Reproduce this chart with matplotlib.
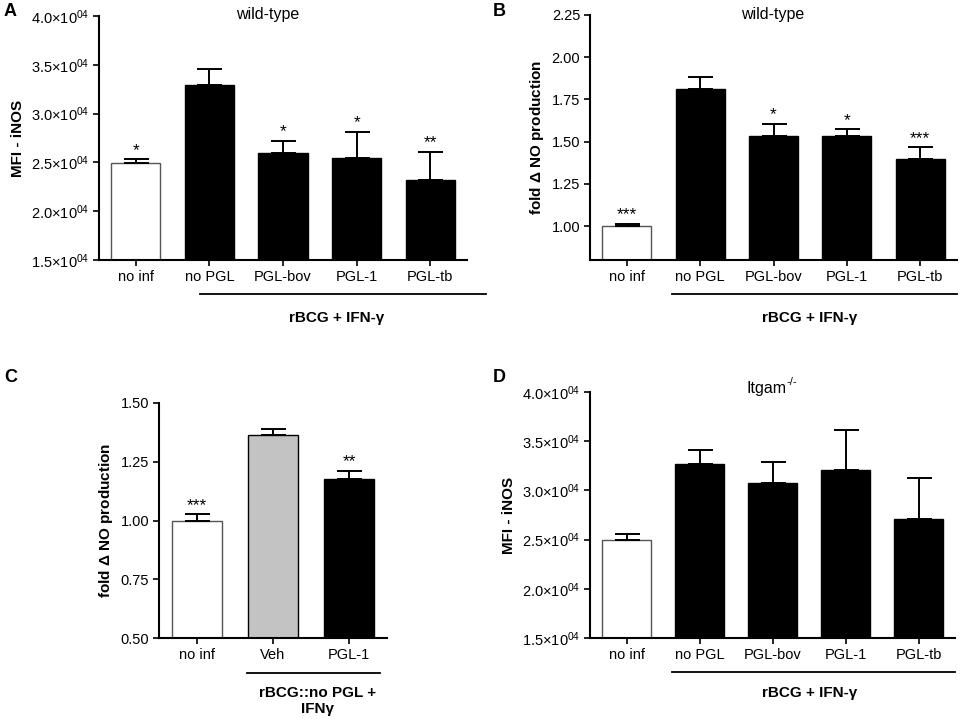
import matplotlib
matplotlib.use("Agg")
import matplotlib.pyplot as plt
from matplotlib.lines import Line2D
from matplotlib.ticker import FixedLocator

plt.rcParams['font.family'] = ['Liberation Sans', 'DejaVu Sans']
plt.rcParams['mathtext.default'] = 'regular'

# data
groups5 = ["no inf", "no PGL", "PGL-bov", "PGL-1", "PGL-tb"]
groups3 = ["no inf", "Veh", "PGL-1"]

a_mean = [2.49e4, 3.295e4, 2.60e4, 2.55e4, 2.32e4]
a_err = [0.04e4, 0.16e4, 0.12e4, 0.265e4, 0.29e4]
a_sig = ["*", "", "*", "*", "**"]

b_mean = [1.00, 1.815, 1.532, 1.532, 1.397]
b_err = [0.015, 0.07, 0.075, 0.042, 0.07]
b_sig = ["***", "", "*", "*", "***"]

c_mean = [1.00, 1.365, 1.177]
c_err = [0.027, 0.024, 0.035]
c_sig = ["***", "", "**"]

d_mean = [2.495e4, 3.27e4, 3.08e4, 3.21e4, 2.71e4]
d_err = [0.058e4, 0.14e4, 0.21e4, 0.40e4, 0.42e4]
d_sig = ["", "", "", "", ""]

mfi_ticks = [1.5e4, 2.0e4, 2.5e4, 3.0e4, 3.5e4, 4.0e4]
mfi_labels = ["1.5×10$^{04}$", "2.0×10$^{04}$", "2.5×10$^{04}$",
              "3.0×10$^{04}$", "3.5×10$^{04}$", "4.0×10$^{04}$"]
no_ticks = [1.00, 1.25, 1.50, 1.75, 2.00, 2.25]
c_ticks = [0.50, 0.75, 1.00, 1.25, 1.50]

W, H = 963, 721
fig = plt.figure(figsize=(W / 100, H / 100), dpi=100)


def rect(x0, y0, x1, y1):
    return [x0 / W, 1 - y1 / H, (x1 - x0) / W, (y1 - y0) / H]


def fpt(x, y):
    return x / W, 1 - y / H


def bar_panel(ax, labels, means, errs, sigs, colors, ylim, yticks, ylabels, ylabel):
    x = list(range(len(labels)))
    ax.bar(x, means, width=0.67, color=colors, edgecolor=["#555555" if c == "white" else "black" for c in colors],
           linewidth=1.0, zorder=2)
    ax.errorbar(x, means, yerr=[[0] * len(errs), errs], fmt="none", ecolor="black",
                elinewidth=1.4, capsize=9, capthick=1.4, zorder=3)
    for xi, m, e, s in zip(x, means, errs, sigs):
        if s:
            ax.annotate(s, (xi, m + e), xytext=(0, 1), textcoords="offset points",
                        ha="center", va="bottom", fontsize=12.5)
    ax.set_xlim(-0.5, len(labels) - 0.5)
    ax.set_ylim(*ylim)
    ax.yaxis.set_major_locator(FixedLocator(yticks))
    if ylabels is not None:
        ax.set_yticklabels(ylabels)
    else:
        ax.set_yticklabels([f"{t:.2f}" for t in yticks])
    ax.set_xticks(x)
    ax.set_xticklabels(labels)
    for side in ("top", "right"):
        ax.spines[side].set_visible(False)
    for side in ("left", "bottom"):
        ax.spines[side].set_linewidth(1.5)
    ax.tick_params(direction="out", length=4, width=1.2, labelsize=10.5, pad=3)
    ax.set_ylabel(ylabel, fontsize=11, fontweight="bold")


axA = fig.add_axes(rect(99, 16, 467, 260))
bar_panel(axA, groups5, a_mean, a_err, a_sig, ["white"] + ["black"] * 4,
          (1.5e4, 4.0e4), mfi_ticks, mfi_labels, "MFI - iNOS")
fig.text(*fpt(268, 14), "wild-type", ha="center", va="center", fontsize=11.5)

axB = fig.add_axes(rect(590, 15, 957, 260))
bar_panel(axB, groups5, b_mean, b_err, b_sig, ["white"] + ["black"] * 4,
          (0.80, 2.25), no_ticks, None, "fold $\\Delta$ NO production")
fig.text(*fpt(773, 14), "wild-type", ha="center", va="center", fontsize=11.5)

axC = fig.add_axes(rect(159, 403, 387, 638))
bar_panel(axC, groups3, c_mean, c_err, c_sig, ["white", "#c3c3c3", "black"],
          (0.50, 1.50), c_ticks, None, "fold $\\Delta$ NO production")

axD = fig.add_axes(rect(590, 392, 955, 638))
bar_panel(axD, groups5, d_mean, d_err, d_sig, ["white"] + ["black"] * 4,
          (1.5e4, 4.0e4), mfi_ticks, mfi_labels, "MFI - iNOS")
fig.text(*fpt(786, 388), "Itgam", ha="right", va="center", fontsize=11.5)
fig.text(*fpt(786, 382), "-/-", ha="left", va="center", fontsize=8)

# group brackets below the x axes
for x0, x1, y in [(200, 486, 294), (672, 957, 294), (247, 380, 673), (672, 955, 672)]:
    fig.add_artist(Line2D([x0 / W, x1 / W], [1 - y / H, 1 - y / H], color="black", lw=1.3))

fig.text(*fpt(337, 318), "rBCG + IFN-γ", ha="center", va="center", fontsize=11, fontweight="bold")
fig.text(*fpt(810, 318), "rBCG + IFN-γ", ha="center", va="center", fontsize=11, fontweight="bold")
fig.text(*fpt(318, 701), "rBCG::no PGL +\nIFNγ", ha="center", va="center", fontsize=11,
         fontweight="bold", linespacing=1.1)
fig.text(*fpt(810, 693), "rBCG + IFN-γ", ha="center", va="center", fontsize=11, fontweight="bold")

# panel letters
for letter, (x, y) in zip("ABCD", [(4, 12), (493, 12), (4, 378), (493, 378)]):
    fig.text(*fpt(x, y), letter, ha="left", va="center", fontsize=13, fontweight="bold")

fig.savefig("out.png", dpi=100)
